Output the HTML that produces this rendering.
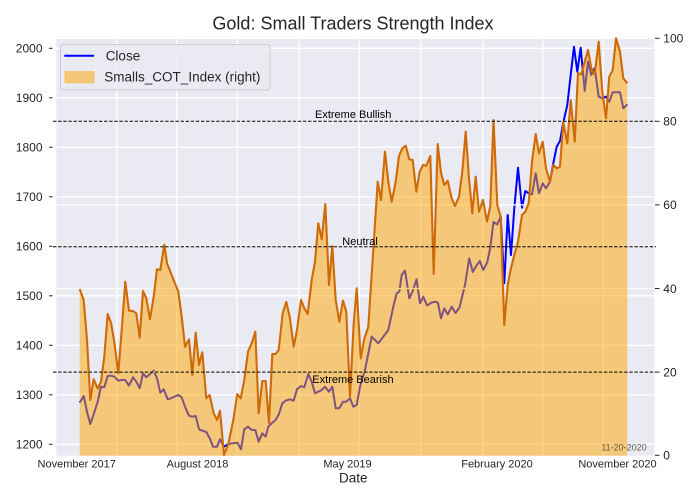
<!DOCTYPE html>
<html>
<head>
<meta charset="utf-8">
<style>
html,body{margin:0;padding:0;background:#fff;}
svg{display:block;}
text{font-family:"Liberation Sans",Arial,sans-serif;fill:#262626;}
</style>
</head>
<body>
<svg width="700" height="500" viewBox="0 0 700 500" xmlns="http://www.w3.org/2000/svg">
<rect x="0" y="0" width="700" height="500" fill="#ffffff"/>
<!-- axes background -->
<rect x="55" y="37.7" width="599.3" height="418" fill="#EAEAF2"/>
<!-- left grid -->
<g stroke="#ffffff" stroke-width="1.3">
<line x1="55" x2="654.3" y1="48.3" y2="48.3"/>
<line x1="55" x2="654.3" y1="97.8" y2="97.8"/>
<line x1="55" x2="654.3" y1="147.3" y2="147.3"/>
<line x1="55" x2="654.3" y1="196.8" y2="196.8"/>
<line x1="55" x2="654.3" y1="246.3" y2="246.3"/>
<line x1="55" x2="654.3" y1="295.8" y2="295.8"/>
<line x1="55" x2="654.3" y1="345.3" y2="345.3"/>
<line x1="55" x2="654.3" y1="394.8" y2="394.8"/>
<line x1="55" x2="654.3" y1="444.3" y2="444.3"/>
<line y1="37.7" y2="455.7" x1="55.6" x2="55.6"/>
<line y1="37.7" y2="455.7" x1="116.7" x2="116.7"/>
<line y1="37.7" y2="455.7" x1="176.7" x2="176.7"/>
<line y1="37.7" y2="455.7" x1="237.3" x2="237.3"/>
<line y1="37.7" y2="455.7" x1="299.3" x2="299.3"/>
<line y1="37.7" y2="455.7" x1="359.3" x2="359.3"/>
<line y1="37.7" y2="455.7" x1="420.7" x2="420.7"/>
<line y1="37.7" y2="455.7" x1="482.7" x2="482.7"/>
<line y1="37.7" y2="455.7" x1="542.7" x2="542.7"/>
<line y1="37.7" y2="455.7" x1="603.3" x2="603.3"/>
</g>
<!-- Close line -->
<polyline fill="none" stroke="#0000FF" stroke-width="2" stroke-linejoin="round" points="79.7,402.7 83.7,396 87,411.7 90.3,424 93.7,414.3 97.7,401.7 101,386.7 104.3,387.3 107.7,376 111,375.7 114.3,376.7 118.3,380.7 121.7,380 125.3,380 129,385.7 133,377.3 136.3,381.7 139.7,388.3 143,373.3 146.3,377.3 150,374 153.7,370.7 157,378.3 160.3,392.7 163.7,389.3 167.7,399.3 171,398.3 174.3,396.7 178.3,395 181.7,397.3 185,406.7 189,415.7 192.3,416.7 195.7,416 199,429.3 202.3,430.7 206.3,432 209.7,438.3 213,446.7 217,446.7 220,439.3 224,446.7 228.3,444 233.3,443.3 237.3,442.7 241,449.3 244.3,429.3 248,426.7 251.7,430 255.3,430 258.7,441.7 262.3,433.3 265.7,436.7 268.3,426.7 272.3,422.7 275.7,420 279,414 282.3,403.3 285.7,400.7 289.7,399.3 293.7,400.7 297,389.3 301,386 304.3,387.3 308.3,374 311.7,381.7 315,393.3 318.3,391.7 321.7,390 325,386.7 329,391.7 332.3,386.7 335.7,408.3 339.3,408.3 343,401.7 346.3,401.7 350,398.3 353.3,406.7 356.7,405 360,386.7 365,370 371.7,336.7 375,340 378.3,343.3 388.3,330 393.3,306.7 396.7,293.3 399.3,291.7 401.7,275 405,270.5 409.3,298.3 412.7,291 416.5,279.3 420,303.3 423.3,296.7 427,305.5 431.7,302.5 435.7,301.7 438,303 441,318.3 444.3,308.3 447.7,314.5 451.7,306.7 455.5,313 459.5,307.5 463.5,291 465,285 469.2,258.3 472.8,272 475.7,266.7 479.8,261 483.2,270 487.2,262.5 490.2,248 493.5,222 497.2,224.5 500.7,216.7 504.3,283.3 507.7,215 511,255 514.3,208.3 518,167.7 522,207.7 525.3,191 528.7,193.3 532,194.3 535.7,173.3 539,193.3 542.7,183.3 546,188.3 550,181.7 553.3,163.3 556.7,146.7 560,141 563.3,122.3 567.3,105 570.7,75 574,46.7 577.3,71.7 580.7,47.7 584.7,91 588,61.7 591.3,75 594.7,68.3 598.7,96.7 602.3,98.3 606,96.7 609.3,101.7 612.7,92.3 616,92.3 620,92.3 623.3,108.3 627.3,104.3"/>
<!-- right grid -->
<g stroke="#ffffff" stroke-width="1.3">
<line x1="55" x2="654.3" y1="38.3" y2="38.3"/>
<line x1="55" x2="654.3" y1="121.3" y2="121.3"/>
<line x1="55" x2="654.3" y1="204.9" y2="204.9"/>
<line x1="55" x2="654.3" y1="288.5" y2="288.5"/>
<line x1="55" x2="654.3" y1="372.1" y2="372.1"/>
</g>
<!-- COT fill -->
<polygon fill="#FFA500" fill-opacity="0.5" stroke="none" points="79.7,455.7 79.7,289 83.7,300 87,340 90.3,400 93.7,379.3 97.7,388.7 101,381.7 104.3,356.7 107.7,314 111,322.7 114.3,341.7 118.3,373.3 121.7,330 125.3,281.7 129,310.7 133,311 136.3,313.3 139.7,337.7 143,291 146.3,298.3 150,319.3 153.7,296.7 157,269.3 160.3,270 164.3,244.7 167,263.3 171,273.3 174.3,281.7 178.3,291.7 181.7,316.7 185,346.7 189,339.3 192.3,375 195.7,332.7 199,365 202.3,352.3 206.3,398.3 209.7,395 213.7,413.3 217,420 220,410.7 224,455 228.3,444 233.3,420 237.3,394 240.7,398.3 244.3,380 248,351.7 251.7,343.3 255.3,331.7 258.7,413.3 262.3,381 265.7,381 269,423.3 272.3,354 275.7,354 278.7,350 282.7,313.3 286.3,302 289.7,316.7 293.7,346.7 297,330 301,300 304.3,308.3 307.7,314 311.7,280 315,261.7 318.3,223.3 321.7,239.3 325.3,204 329,285 332.3,246 335.7,300 339.3,321.7 343,300.7 346.3,311.7 350,396.7 353.7,323.3 356.7,288.3 360.7,358.3 364,340 368.3,326.7 373.3,250 377.7,181.7 381,200 385,151.7 388.3,181.7 391.7,201.7 395.7,181.7 399,156 402.3,148.3 405.7,145.7 409.3,159.3 412.7,160 416.3,191.7 419.7,171.7 423,165 426.3,165.7 430.3,156 433.7,274 437.7,144 441,172.7 444.3,185 447.7,180.7 451.7,198.3 455,206 459,196.7 462.3,171.7 465.7,131.7 469,178.3 472.3,213.3 475.7,176.7 479,211.7 483,200 487,221.7 490.3,206 493.5,120 497.3,205 500.7,216.7 504.3,325 507.7,285 511,268.3 514.3,255 518,241.7 522,215 525.3,211.7 528.7,203.3 532,161.7 535.7,134 539,153.3 542.7,141.7 546,168.3 550,181.7 553.3,165 556.7,168.3 560,166.7 563.3,122.3 567.3,143.3 570.7,100 574.7,141.7 578,73.3 581.3,74.3 584.7,61.7 588,50 591.3,68.3 594.7,74.3 598.7,41.7 602.3,91.7 606,118.3 609.3,76.7 612.7,70 616,38.3 620,51.7 623.3,78.3 627.3,83.3 627.3,455.7"/>
<!-- COT line -->
<polyline fill="none" stroke="#CE6A08" stroke-width="2.1" stroke-linejoin="round" points="79.7,289 83.7,300 87,340 90.3,400 93.7,379.3 97.7,388.7 101,381.7 104.3,356.7 107.7,314 111,322.7 114.3,341.7 118.3,373.3 121.7,330 125.3,281.7 129,310.7 133,311 136.3,313.3 139.7,337.7 143,291 146.3,298.3 150,319.3 153.7,296.7 157,269.3 160.3,270 164.3,244.7 167,263.3 171,273.3 174.3,281.7 178.3,291.7 181.7,316.7 185,346.7 189,339.3 192.3,375 195.7,332.7 199,365 202.3,352.3 206.3,398.3 209.7,395 213.7,413.3 217,420 220,410.7 224,455 228.3,444 233.3,420 237.3,394 240.7,398.3 244.3,380 248,351.7 251.7,343.3 255.3,331.7 258.7,413.3 262.3,381 265.7,381 269,423.3 272.3,354 275.7,354 278.7,350 282.7,313.3 286.3,302 289.7,316.7 293.7,346.7 297,330 301,300 304.3,308.3 307.7,314 311.7,280 315,261.7 318.3,223.3 321.7,239.3 325.3,204 329,285 332.3,246 335.7,300 339.3,321.7 343,300.7 346.3,311.7 350,396.7 353.7,323.3 356.7,288.3 360.7,358.3 364,340 368.3,326.7 373.3,250 377.7,181.7 381,200 385,151.7 388.3,181.7 391.7,201.7 395.7,181.7 399,156 402.3,148.3 405.7,145.7 409.3,159.3 412.7,160 416.3,191.7 419.7,171.7 423,165 426.3,165.7 430.3,156 433.7,274 437.7,144 441,172.7 444.3,185 447.7,180.7 451.7,198.3 455,206 459,196.7 462.3,171.7 465.7,131.7 469,178.3 472.3,213.3 475.7,176.7 479,211.7 483,200 487,221.7 490.3,206 493.5,120 497.3,205 500.7,216.7 504.3,325 507.7,285 511,268.3 514.3,255 518,241.7 522,215 525.3,211.7 528.7,203.3 532,161.7 535.7,134 539,153.3 542.7,141.7 546,168.3 550,181.7 553.3,165 556.7,168.3 560,166.7 563.3,122.3 567.3,143.3 570.7,100 574.7,141.7 578,73.3 581.3,74.3 584.7,61.7 588,50 591.3,68.3 594.7,74.3 598.7,41.7 602.3,91.7 606,118.3 609.3,76.7 612.7,70 616,38.3 620,51.7 623.3,78.3 627.3,83.3"/>
<!-- dashed reference lines -->
<g stroke="#000000" stroke-width="1" stroke-dasharray="3.5 1.6" fill="none">
<line x1="53" x2="656" y1="121.3" y2="121.3"/>
<line x1="53" x2="656" y1="246.7" y2="246.7"/>
<line x1="53" x2="656" y1="372.1" y2="372.1"/>
</g>
<g font-size="11" style="fill:#000">
<text x="315" y="118.2" style="fill:#000">Extreme Bullish</text>
<text x="342.3" y="245" style="fill:#000">Neutral</text>
<text x="312.3" y="383.2" style="fill:#000">Extreme Bearish</text>
</g>
<text x="646.7" y="450.5" font-size="9" text-anchor="end" style="fill:#6b5a45">11-20-2020</text>
<!-- left ticks -->
<g stroke="#262626" stroke-width="1">
<line x1="49" x2="52.5" y1="48.3" y2="48.3"/>
<line x1="49" x2="52.5" y1="97.8" y2="97.8"/>
<line x1="49" x2="52.5" y1="147.3" y2="147.3"/>
<line x1="49" x2="52.5" y1="196.8" y2="196.8"/>
<line x1="49" x2="52.5" y1="246.3" y2="246.3"/>
<line x1="49" x2="52.5" y1="295.8" y2="295.8"/>
<line x1="49" x2="52.5" y1="345.3" y2="345.3"/>
<line x1="49" x2="52.5" y1="394.8" y2="394.8"/>
<line x1="49" x2="52.5" y1="444.3" y2="444.3"/>
<line x1="655" x2="659.5" y1="38.3" y2="38.3"/>
<line x1="655" x2="659.5" y1="121.3" y2="121.3"/>
<line x1="655" x2="659.5" y1="204.9" y2="204.9"/>
<line x1="655" x2="659.5" y1="288.5" y2="288.5"/>
<line x1="655" x2="659.5" y1="372.1" y2="372.1"/>
<line x1="655" x2="659.5" y1="455.3" y2="455.3"/>
</g>
<g font-size="12" text-anchor="end">
<text x="42.5" y="52.6">2000</text>
<text x="42.5" y="102.1">1900</text>
<text x="42.5" y="151.6">1800</text>
<text x="42.5" y="201.1">1700</text>
<text x="42.5" y="250.6">1600</text>
<text x="42.5" y="300.1">1500</text>
<text x="42.5" y="349.6">1400</text>
<text x="42.5" y="399.1">1300</text>
<text x="42.5" y="448.6">1200</text>
</g>
<g font-size="12">
<text x="663.3" y="42.6">100</text>
<text x="663.3" y="125.6">80</text>
<text x="663.3" y="209.2">60</text>
<text x="663.3" y="292.8">40</text>
<text x="663.3" y="376.4">20</text>
<text x="663.3" y="459.6">0</text>
</g>
<g font-size="11" text-anchor="middle">
<text x="76.7" y="467.3">November 2017</text>
<text x="197.5" y="467.3">August 2018</text>
<text x="347.5" y="467.3">May 2019</text>
<text x="497" y="467.3">February 2020</text>
<text x="617.5" y="467.3">November 2020</text>
</g>
<text x="353.3" y="482.5" font-size="13.5" text-anchor="middle">Date</text>
<text x="353" y="29.3" font-size="18" text-anchor="middle">Gold: Small Traders Strength Index</text>
<!-- legend -->
<rect x="60.5" y="44.5" width="209.5" height="45.5" rx="3" ry="3" fill="#EAEAF2" fill-opacity="0.8" stroke="#CCCCCC" stroke-width="1"/>
<line x1="64.3" x2="94" y1="55.7" y2="55.7" stroke="#0000FF" stroke-width="2"/>
<rect x="65" y="71.7" width="29" height="11" fill="#FFA500" fill-opacity="0.5" stroke="#FFA500" stroke-opacity="0.5" stroke-width="1"/>
<text x="105.7" y="60.5" font-size="13.5">Close</text>
<text x="104.3" y="81.5" font-size="13.5">Smalls_COT_Index (right)</text>
</svg>
</body>
</html>
